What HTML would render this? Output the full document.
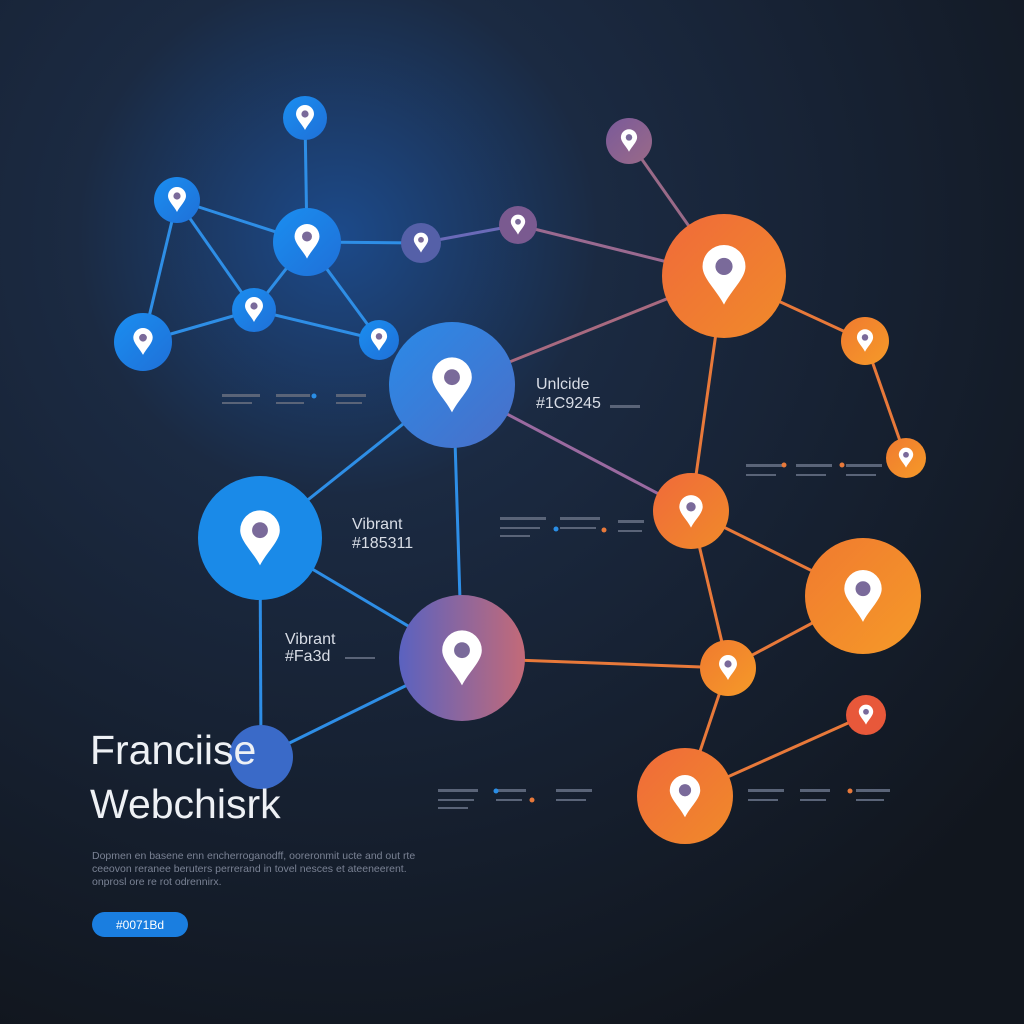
<!DOCTYPE html>
<html><head><meta charset="utf-8"><style>
html,body{margin:0;padding:0;background:#151b26;}
svg{display:block}
text{font-family:"Liberation Sans",sans-serif;}
</style></head><body>
<svg width="1024" height="1024" viewBox="0 0 1024 1024" xmlns="http://www.w3.org/2000/svg">
<defs>
<radialGradient id="bg" cx="0.33" cy="0.23" r="0.85">
<stop offset="0" stop-color="#1c4a8a"/><stop offset="0.3" stop-color="#1b2a42"/><stop offset="1" stop-color="#11161e"/></radialGradient>
<linearGradient id="gb" x1="0" y1="0" x2="1" y2="1"><stop offset="0" stop-color="#1a8ef0"/><stop offset="1" stop-color="#1f70d8"/></linearGradient>
<linearGradient id="gbig" x1="0" y1="0" x2="1" y2="1"><stop offset="0" stop-color="#2a8ae8"/><stop offset="1" stop-color="#4a6fc8"/></linearGradient>
<linearGradient id="gp" x1="0" y1="0" x2="1" y2="0"><stop offset="0" stop-color="#5a62c0"/><stop offset="1" stop-color="#c36a78"/></linearGradient>
<linearGradient id="go" x1="0" y1="0" x2="1" y2="1"><stop offset="0" stop-color="#f06a3a"/><stop offset="1" stop-color="#f08a2a"/></linearGradient>
<linearGradient id="go2" x1="0" y1="0" x2="1" y2="1"><stop offset="0" stop-color="#f07a30"/><stop offset="1" stop-color="#f59a28"/></linearGradient>
<linearGradient id="gm" x1="0" y1="0" x2="1" y2="1"><stop offset="0" stop-color="#7a5a9a"/><stop offset="1" stop-color="#9a6a88"/></linearGradient>
<symbol id="pin" viewBox="-10 -13 20 26"><path d="M0 12 C-3 6 -9 1 -9 -4 A9 9 0 0 1 9 -4 C9 1 3 6 0 12Z" fill="#fff"/><circle cx="0" cy="-4" r="3.6" fill="#7a6a9a"/></symbol>
</defs>
<rect width="1024" height="1024" fill="url(#bg)"/>
<g stroke-width="3" fill="none">
<g stroke="#2e8ee6">
<line x1="305" y1="118" x2="307" y2="242"/><line x1="177" y1="200" x2="307" y2="242"/>
<line x1="177" y1="200" x2="143" y2="342"/><line x1="177" y1="200" x2="254" y2="310"/>
<line x1="307" y1="242" x2="254" y2="310"/><line x1="307" y1="242" x2="379" y2="340"/>
<line x1="307" y1="242" x2="421" y2="243"/><line x1="143" y1="342" x2="254" y2="310"/>
<line x1="254" y1="310" x2="379" y2="340"/><line x1="452" y1="385" x2="260" y2="538"/>
<line x1="455" y1="440" x2="460" y2="600"/><line x1="260" y1="538" x2="462" y2="658"/>
<line x1="260" y1="538" x2="261" y2="757"/><line x1="261" y1="757" x2="462" y2="658"/>
</g>
<line x1="421" y1="243" x2="518" y2="225" stroke="#6a6ab8"/>
<line x1="518" y1="225" x2="724" y2="276" stroke="#9a6a90"/>
<line x1="629" y1="141" x2="724" y2="276" stroke="#9a6a88"/>
<line x1="724" y1="276" x2="452" y2="385" stroke="#a86a80"/>
<line x1="452" y1="385" x2="691" y2="511" stroke="#9a6aa0"/>
<g stroke="#e8793a">
<line x1="724" y1="276" x2="865" y2="341"/><line x1="865" y1="341" x2="906" y2="458"/>
<line x1="724" y1="276" x2="691" y2="511"/><line x1="462" y1="658" x2="728" y2="668"/>
<line x1="691" y1="511" x2="863" y2="596"/><line x1="691" y1="511" x2="728" y2="668"/>
<line x1="728" y1="668" x2="863" y2="596"/><line x1="728" y1="668" x2="685" y2="796"/>
<line x1="685" y1="796" x2="866" y2="715"/>
</g>
</g>
<g>
<circle cx="305" cy="118" r="22" fill="url(#gb)"/><use href="#pin" x="295" y="105" width="20" height="26"/>
<circle cx="177" cy="200" r="23" fill="url(#gb)"/><use href="#pin" x="167" y="187" width="20" height="26"/>
<circle cx="307" cy="242" r="34" fill="url(#gb)"/><use href="#pin" x="293" y="224" width="28" height="36"/>
<circle cx="254" cy="310" r="22" fill="url(#gb)"/><use href="#pin" x="244" y="297" width="20" height="26"/>
<circle cx="143" cy="342" r="29" fill="url(#gb)"/><use href="#pin" x="132" y="328" width="22" height="28"/>
<circle cx="379" cy="340" r="20" fill="url(#gb)"/><use href="#pin" x="370" y="328" width="18" height="24"/>
<circle cx="421" cy="243" r="20" fill="#5560a8"/><use href="#pin" x="413" y="232" width="16" height="22"/>
<circle cx="518" cy="225" r="19" fill="#7a5a90"/><use href="#pin" x="510" y="214" width="16" height="22"/>
<circle cx="629" cy="141" r="23" fill="url(#gm)"/><use href="#pin" x="620" y="129" width="18" height="24"/>
<circle cx="452" cy="385" r="63" fill="url(#gbig)"/><use href="#pin" x="430" y="357" width="44" height="58"/>
<circle cx="260" cy="538" r="62" fill="#1a8ae8"/><use href="#pin" x="238" y="510" width="44" height="58"/>
<circle cx="462" cy="658" r="63" fill="url(#gp)"/><use href="#pin" x="440" y="630" width="44" height="58"/>
<circle cx="261" cy="757" r="32" fill="#3a6ac8"/>
<circle cx="724" cy="276" r="62" fill="url(#go)"/><use href="#pin" x="700" y="245" width="48" height="62"/>
<circle cx="865" cy="341" r="24" fill="url(#go2)"/><use href="#pin" x="856" y="329" width="18" height="24"/>
<circle cx="906" cy="458" r="20" fill="url(#go2)"/><use href="#pin" x="898" y="447" width="16" height="22"/>
<circle cx="691" cy="511" r="38" fill="url(#go)"/><use href="#pin" x="678" y="495" width="26" height="34"/>
<circle cx="863" cy="596" r="58" fill="url(#go2)"/><use href="#pin" x="842" y="570" width="42" height="54"/>
<circle cx="728" cy="668" r="28" fill="url(#go2)"/><use href="#pin" x="718" y="655" width="20" height="26"/>
<circle cx="866" cy="715" r="20" fill="#e8583a"/><use href="#pin" x="858" y="704" width="16" height="22"/>
<circle cx="685" cy="796" r="48" fill="url(#go)"/><use href="#pin" x="668" y="775" width="34" height="44"/>
</g>
<g fill="#d8dde6" font-size="16">
<text x="536" y="389">Unlcide</text><text x="536" y="408">#1C9245</text>
<text x="352" y="529">Vibrant</text><text x="352" y="548">#185311</text>
<text x="285" y="644">Vibrant</text><text x="285" y="661">#Fa3d</text>
</g>
<g fill="#5a6478">
<rect x="222" y="394" width="38" height="3"/><rect x="222" y="402" width="30" height="2"/>
<rect x="276" y="394" width="34" height="3"/><rect x="276" y="402" width="28" height="2"/>
<rect x="336" y="394" width="30" height="3"/><rect x="336" y="402" width="26" height="2"/>
<rect x="610" y="405" width="30" height="3"/>
<rect x="500" y="517" width="46" height="3"/><rect x="500" y="527" width="40" height="2"/><rect x="500" y="535" width="30" height="2"/>
<rect x="560" y="517" width="40" height="3"/><rect x="560" y="527" width="36" height="2"/>
<rect x="618" y="520" width="26" height="3"/><rect x="618" y="530" width="24" height="2"/>
<rect x="746" y="464" width="36" height="3"/><rect x="746" y="474" width="30" height="2"/>
<rect x="796" y="464" width="36" height="3"/><rect x="796" y="474" width="30" height="2"/>
<rect x="846" y="464" width="36" height="3"/><rect x="846" y="474" width="30" height="2"/>
<rect x="345" y="657" width="30" height="2"/>
<rect x="438" y="789" width="40" height="3"/><rect x="438" y="799" width="36" height="2"/><rect x="438" y="807" width="30" height="2"/>
<rect x="496" y="789" width="30" height="3"/><rect x="496" y="799" width="26" height="2"/>
<rect x="556" y="789" width="36" height="3"/><rect x="556" y="799" width="30" height="2"/>
<rect x="748" y="789" width="36" height="3"/><rect x="748" y="799" width="30" height="2"/>
<rect x="800" y="789" width="30" height="3"/><rect x="800" y="799" width="26" height="2"/>
<rect x="856" y="789" width="34" height="3"/><rect x="856" y="799" width="28" height="2"/>
</g>
<g fill="#2a8ee6"><circle cx="314" cy="396" r="2.5"/><circle cx="556" cy="529" r="2.5"/><circle cx="496" cy="791" r="2.5"/></g>
<g fill="#e8793a"><circle cx="784" cy="465" r="2.5"/><circle cx="842" cy="465" r="2.5"/><circle cx="604" cy="530" r="2.5"/><circle cx="532" cy="800" r="2.5"/><circle cx="850" cy="791" r="2.5"/></g>
<g fill="#eef1f5" font-size="41">
<text x="90" y="764">Franciise</text><text x="90" y="818">Webchisrk</text>
</g>
<g fill="#7a8294" font-size="10.5">
<text x="92" y="859">Dopmen en basene enn encherroganodff, ooreronmit ucte and out rte</text>
<text x="92" y="872">ceeovon reranee beruters perrerand in tovel nesces et ateeneerent.</text>
<text x="92" y="885">onprosl ore re rot odrennirx.</text>
</g>
<rect x="92" y="912" width="96" height="25" rx="12.5" fill="#1a7ee0"/>
<text x="140" y="929" fill="#fff" font-size="12" text-anchor="middle">#0071Bd</text>
</svg>
</body></html>
